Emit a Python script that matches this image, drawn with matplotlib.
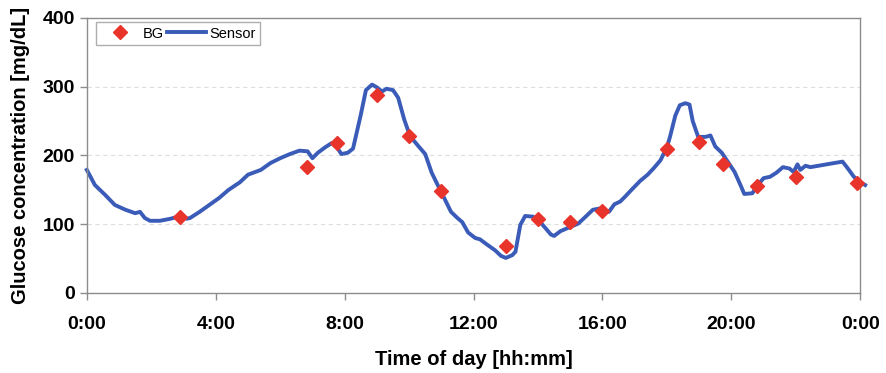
import matplotlib.pyplot as plt
import numpy as np

# sensor trace (hour of day, mg/dL)
sensor_hours = [0.0, 0.25, 0.56, 0.87, 1.2, 1.5, 1.65, 1.8, 1.96, 2.27, 2.6, 2.9, 3.1, 3.2,
                3.5, 3.8, 4.1, 4.4, 4.75, 5.0, 5.4, 5.7, 6.0, 6.3, 6.6, 6.85, 7.0, 7.17,
                7.4, 7.6, 7.77, 7.9, 8.1, 8.26, 8.5, 8.66, 8.85, 9.0, 9.16, 9.3, 9.5,
                9.66, 9.85, 10.03, 10.28, 10.5, 10.7, 10.96, 11.1, 11.3, 11.5, 11.65,
                11.83, 12.05, 12.2, 12.4, 12.67, 12.85, 13.0, 13.2, 13.3, 13.45, 13.6,
                13.85, 14.07, 14.2, 14.4, 14.5, 14.7, 15.0, 15.25, 15.5, 15.7, 15.93,
                16.2, 16.37, 16.55, 16.7, 16.9, 17.17, 17.4, 17.6, 17.8, 18.0, 18.1,
                18.26, 18.4, 18.57, 18.7, 18.8, 18.97, 19.2, 19.35, 19.5, 19.7, 19.9,
                20.1, 20.3, 20.4, 20.65, 20.8, 21.0, 21.2, 21.4, 21.6, 21.8, 21.93,
                22.05, 22.14, 22.3, 22.45, 22.7, 23.07, 23.45, 23.63, 23.8, 24.0, 24.15]
sensor_values = [179, 157, 143, 128, 121, 116, 118, 109, 105, 105, 108, 112, 108, 109,
                 118, 128, 138, 150, 161, 172, 179, 189, 196, 202, 207, 206, 196, 204,
                 212, 218, 211, 202, 204, 210, 259, 295, 303, 299, 293, 297, 295,
                 284, 252, 228, 214, 202, 175, 150, 137, 118, 109, 103,
                 88, 80, 78, 71, 62, 54, 51, 55, 60, 99, 112,
                 111, 103, 96, 85, 83, 90, 96, 101, 112, 121, 123,
                 118, 129, 133, 140, 150, 163, 172, 182, 193, 212, 228,
                 258, 273, 276, 274, 250, 227, 227, 229, 213, 204, 190,
                 176, 155, 144, 145, 156, 167, 169, 175, 183, 181, 176,
                 187, 179, 185, 183, 185, 188, 191, 180, 169, 161, 157]

# reference blood glucose measurements
bg_hours = [2.9, 6.83, 7.76, 9.0, 10.0, 11.0, 13.0, 14.0, 15.0, 16.0, 18.0, 19.0,
            19.75, 20.8, 22.0, 23.9]
bg_values = [110, 183, 218, 288, 229, 149, 68, 107, 103, 119, 210, 219, 188, 156, 168, 160]

tick_hours = [0, 4, 8, 12, 16, 20, 24]
tick_labels = ['0:00', '4:00', '8:00', '12:00', '16:00', '20:00', '0:00']

plt.rcParams['font.family'] = ['Liberation Sans', 'DejaVu Sans']

fig = plt.figure(figsize=(8.86, 3.73), dpi=100)
ax = fig.add_axes([0.098, 0.2145, 0.873, 0.7375])

ax.plot(sensor_hours, sensor_values, color='#3a5cb8', lw=2.8, label='Sensor',
        solid_joinstyle='round', clip_on=False, zorder=2)
ax.plot(bg_hours, bg_values, 'D', color='#e8342b', ms=7.5, mec='#e8342b', label='BG',
        clip_on=False, zorder=3)

ax.set_xlim(0, 24)
ax.set_ylim(0, 400)
ax.set_xticks(tick_hours)
ax.set_xticklabels(tick_labels)
ax.set_yticks(np.arange(0, 401, 100))
for y in [100, 200, 300]:
    ax.axhline(y, color='#dedede', lw=0.8, ls=(0, (4, 3)), zorder=0)

for s in ax.spines.values():
    s.set_color('#8c8c8c')
    s.set_linewidth(1.0)
ax.tick_params(colors='#8c8c8c', length=5, width=1.0, labelcolor='black')
ax.tick_params(axis='x', pad=11.5)
for lbl in ax.get_xticklabels() + ax.get_yticklabels():
    lbl.set_fontsize(14)
    lbl.set_fontweight('bold')

ax.set_xlabel('Time of day [hh:mm]', fontsize=14.5, fontweight='bold', labelpad=12)
ax.set_ylabel('Glucose concentration [mg/dL]', fontsize=14.5, fontweight='bold', labelpad=9)

handles, labels = ax.get_legend_handles_labels()
leg = ax.legend(handles[::-1], labels[::-1], loc='upper left', ncol=2, fontsize=10.5,
                frameon=True, fancybox=False, edgecolor='#9a9a9a', borderpad=0.3,
                handlelength=2.7, columnspacing=0.2, handletextpad=0.2,
                borderaxespad=0.2, bbox_to_anchor=(0.008, 0.995))
leg.get_frame().set_linewidth(1.0)

fig.savefig('out.png', dpi=100)
